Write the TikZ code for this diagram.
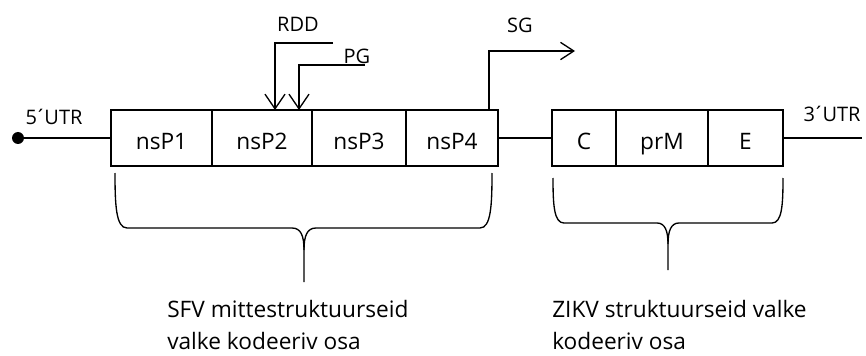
\documentclass[tikz,border=0pt]{standalone}
\usepackage{fontspec}
\setmainfont{Open Sans}
\usetikzlibrary{arrows.meta,positioning}

\begin{document}
\begin{tikzpicture}[
  x=0.75pt, y=-0.75pt,
  cell/.style={draw, line width=1pt, outer sep=0pt, inner sep=0pt,
               minimum height=42pt, text height=17pt, text depth=0.4pt,
               font=\fontsize{17}{20}\selectfont},
  lbl/.style ={inner sep=0pt, anchor=base, font=\fontsize{15}{18}\selectfont},
  desc/.style={inner sep=0pt, anchor=north west, align=left,
               font=\fontsize{17}{24}\selectfont},
  ln/.style  ={line width=1pt},
  ar/.style  ={line width=1pt, -{Straight Barb[length=11pt,width=15pt]}},
  ar2/.style ={line width=1pt, -{Straight Barb[length=10pt,width=13pt]}},
  brace/.style={line width=1pt},
]
  \useasboundingbox (0,0) rectangle (866,356);

  % ---- 5' end ----
  \node[circle, fill, inner sep=0pt, minimum size=9pt] (cap) at (18,138) {};
  \node[lbl] (utr5) at (54,125) {5\kern-1.5pt´\kern-1.5pt UTR};

  % ---- nonstructural part ----
  \node[cell, minimum width=75.75pt] (p1) at (161.5,138) {nsP1};
  \node[cell, minimum width=75pt,    right=0pt of p1] (p2) {nsP2};
  \node[cell, minimum width=70.5pt,  right=0pt of p2] (p3) {nsP3};
  \node[cell, minimum width=69pt,    right=0pt of p3] (p4) {nsP4};

  % ---- structural part ----
  \node[cell, minimum width=48pt] (c) at (584,138) {C};
  \node[cell, minimum width=69pt,    right=0pt of c]  (prm) {prM};
  \node[cell, minimum width=56.25pt, right=0pt of prm] (e) {E};

  % ---- 3' end ----
  \coordinate (end3) at (862,138);
  \node[lbl] (utr3) at (832,122) {3\kern-1.5pt´\kern-1.5pt UTR};

  % ---- backbone ----
  \draw[ln] (cap) -- (p1);
  \draw[ln] (p4)  -- (c);
  \draw[ln] (e)   -- (end3);

  % ---- RDD / PG / SG ----
  \coordinate (rddin) at (333,43);
  \coordinate (pgin)  at (365,65);
  \coordinate (sgout) at (575,51);
  \draw[ar]  (rddin) -| ([xshift=9.75pt]p2.north);
  \draw[ar]  (pgin)  -| ([xshift=27.75pt]p2.north);
  \draw[ar2] ([xshift=27.75pt]p4.north) |- (sgout);
  \node[lbl] (rdd) at (298,32) {RDD};
  \node[lbl] (pg)  at (357,64) {PG};
  \node[lbl] (sg)  at (520,33) {SG};

  % ---- braces ----
  \draw[brace] (115,173) .. controls (115,205) and (116,228) .. (127,228) -- (292,228)
               .. controls (301,228) and (304,236) .. (304,250) -- (304,282);
  \draw[brace] (304,250) .. controls (304,236) and (307,228) .. (316,228) -- (480,228)
               .. controls (491,228) and (492,205) .. (492,173);
  \draw[brace] (553,178) .. controls (553,205) and (554,223) .. (564,223) -- (657,223)
               .. controls (665,223) and (668,231) .. (668,244) -- (668,270);
  \draw[brace] (668,244) .. controls (668,231) and (671,223) .. (679,223) -- (772,223)
               .. controls (782,223) and (783,205) .. (783,178);

  % ---- descriptions ----
  \node[desc] (sfvtxt)  at (167,300) {SFV mittestruktuurseid\\valke kodeeriv osa};
  \node[desc] (zikvtxt) at (552,300) {ZIKV struktuurseid valke\\kodeeriv osa};
\end{tikzpicture}
\end{document}
